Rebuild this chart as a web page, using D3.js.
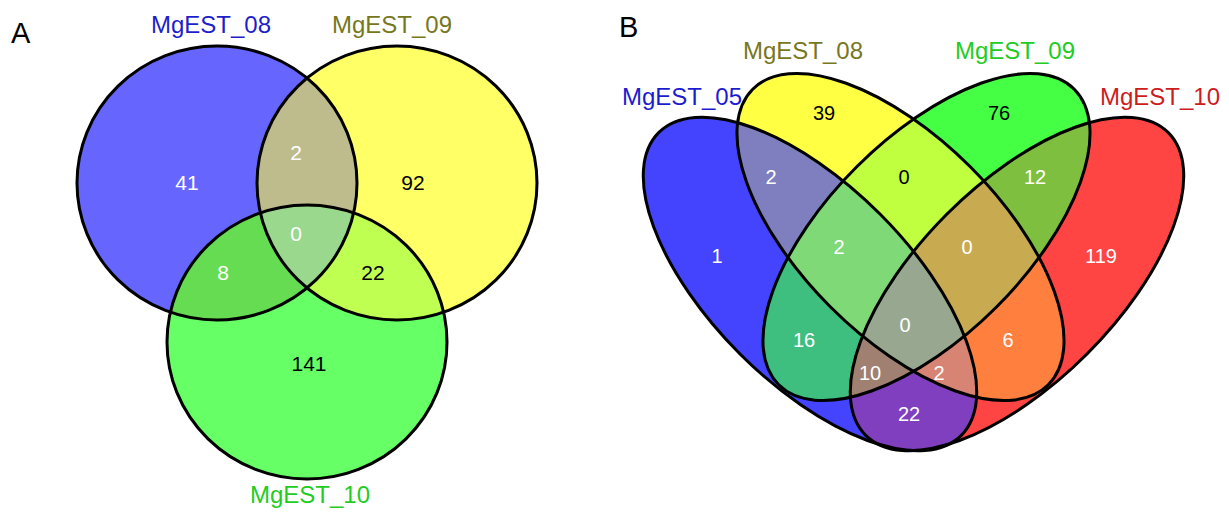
<!DOCTYPE html>
<html>
<head>
<meta charset="utf-8">
<script src="https://cdn.jsdelivr.net/npm/d3@7"></script>
<style>
  html, body { margin: 0; padding: 0; background: #ffffff; }
  svg { display: block; }
  text { font-family: "Liberation Sans", Arial, sans-serif; }
</style>
</head>
<body>
<svg id="chart" width="1229" height="512"></svg>
<script>
// ---- Panel A: three EST libraries ----
const setsA = ["MgEST_08", "MgEST_09", "MgEST_10"];
// region keys: one character per set, "1" = inside
const regionKeysA = ["100", "010", "001", "110", "101", "011", "111"];
const countsA     = [41, 92, 141, 2, 8, 22, 0];

// ---- Panel B: four EST libraries ----
const setsB = ["MgEST_05", "MgEST_08", "MgEST_09", "MgEST_10"];
const regionKeysB = ["1000", "0100", "0010", "0001",
                     "1100", "0110", "0011", "1010", "0101", "1001",
                     "1110", "0111", "1011", "1101", "1111"];
const countsB     = [1, 39, 76, 119,
                     2, 0, 12, 16, 6, 22,
                     2, 0, 10, 2, 0];

// ---------------- styling / layout ----------------
const shapesA = [
  { cx: 217, cy: 183, rx: 140, ry: 137, rot: 0 },
  { cx: 397, cy: 183, rx: 140, ry: 137, rot: 0 },
  { cx: 307, cy: 342, rx: 140, ry: 137, rot: 0 }
];
const fillA = {
  "100": "#6666ff", "010": "#ffff66", "001": "#66ff66",
  "110": "#bebc8c", "101": "#66dc52", "011": "#bfff52", "111": "#9ad88e"
};
const inkA = {
  "100": "#fff", "010": "#000", "001": "#000",
  "110": "#fff", "101": "#fff", "011": "#000", "111": "#fff"
};
const posA = {
  "100": [187, 182], "010": [413, 182], "001": [309, 363],
  "110": [296, 152], "101": [223, 272], "011": [373, 272], "111": [296, 233]
};
const setLabelA = [
  { x: 211, y: 33, color: "#1e1ecb" },
  { x: 392, y: 33, color: "#77771e" },
  { x: 310, y: 503, color: "#22cc22" }
];

const shapesB = [
  { cx: 810,  cy: 284,   rx: 214, ry: 99, rot: 45 },
  { cx: 900.5, cy: 237,  rx: 209, ry: 99, rot: 45 },
  { cx: 926.5, cy: 237,  rx: 209, ry: 99, rot: -45 },
  { cx: 1017, cy: 284,   rx: 214, ry: 99, rot: -45 }
];
const fillB = {
  "1000": "#4444ff", "0100": "#ffff44", "0010": "#44ff44", "0001": "#ff4444",
  "1100": "#7f7fbf", "0110": "#bfff3f", "0011": "#7fbf3f",
  "1010": "#3fbf7f", "0101": "#ff7f3f", "1001": "#7f3fbf",
  "1110": "#80d977", "0111": "#c8aa50", "1011": "#a08070", "1101": "#d88474",
  "1111": "#98a890"
};
const inkB = {
  "1000": "#fff", "0100": "#000", "0010": "#000", "0001": "#fff",
  "1100": "#fff", "0110": "#000", "0011": "#fff",
  "1010": "#fff", "0101": "#fff", "1001": "#fff",
  "1110": "#fff", "0111": "#fff", "1011": "#fff", "1101": "#fff",
  "1111": "#fff"
};
const posB = {
  "1000": [717, 256], "0100": [824, 113], "0010": [999, 113], "0001": [1101, 256],
  "1100": [771, 177], "0110": [904, 177], "0011": [1035, 177],
  "1010": [804, 340], "0101": [1008, 340], "1001": [909, 414],
  "1110": [839, 247], "0111": [967, 247], "1011": [870, 373], "1101": [939, 373],
  "1111": [905, 325]
};
const setLabelB = [
  { x: 682,  y: 105, color: "#1c1ccf" },
  { x: 803,  y: 59,  color: "#77771e" },
  { x: 1015, y: 59,  color: "#22cc22" },
  { x: 1160, y: 105, color: "#cc1c1c" }
];

const svg = d3.select("#chart");
const defs = svg.append("defs");

function addShape(sel, s) {
  return sel.append("ellipse")
    .attr("cx", s.cx).attr("cy", s.cy)
    .attr("rx", s.rx).attr("ry", s.ry)
    .attr("transform", `rotate(${s.rot} ${s.cx} ${s.cy})`);
}

function drawVenn(id, sets, keys, counts, shapes, fills, inks, pos, labels, numSize) {
  const g = svg.append("g").attr("class", "venn-" + id);

  // one clip path per set outline
  shapes.forEach((s, i) => {
    addShape(defs.append("clipPath").attr("id", `clip-${id}-${i}`), s);
  });

  // paint regions from single sets up to the full intersection;
  // each deeper intersection covers the shallower ones beneath it
  const order = d3.range(keys.length)
    .sort((a, b) => d3.sum(keys[a], c => +c) - d3.sum(keys[b], c => +c));
  order.forEach(k => {
    const key = keys[k];
    const members = d3.range(sets.length).filter(i => key[i] === "1");
    let host = g;
    members.slice(0, -1).forEach(i => {
      host = host.append("g").attr("clip-path", `url(#clip-${id}-${i})`);
    });
    addShape(host, shapes[members[members.length - 1]])
      .attr("fill", fills[key]).attr("stroke", "none");
  });

  // outlines
  shapes.forEach(s => {
    addShape(g, s).attr("fill", "none").attr("stroke", "#000").attr("stroke-width", 3);
  });

  // region counts
  g.selectAll("text.count")
    .data(keys.map((key, i) => ({ key, n: counts[i] })))
    .join("text")
    .attr("class", "count")
    .attr("x", d => pos[d.key][0])
    .attr("y", d => pos[d.key][1])
    .attr("dy", "0.36em")
    .attr("text-anchor", "middle")
    .attr("font-size", numSize)
    .attr("fill", d => inks[d.key])
    .text(d => d.n);

  // set names
  g.selectAll("text.set")
    .data(sets.map((name, i) => ({ name, ...labels[i] })))
    .join("text")
    .attr("class", "set")
    .attr("x", d => d.x).attr("y", d => d.y)
    .attr("text-anchor", "middle")
    .attr("font-size", 24)
    .attr("fill", d => d.color)
    .text(d => d.name);
}

drawVenn("a", setsA, regionKeysA, countsA, shapesA, fillA, inkA, posA, setLabelA, 21);
drawVenn("b", setsB, regionKeysB, countsB, shapesB, fillB, inkB, posB, setLabelB, 20);

// panel letters
svg.append("text").attr("x", 11).attr("y", 43).attr("font-size", 29).attr("fill", "#000").text("A");
svg.append("text").attr("x", 619).attr("y", 37).attr("font-size", 29).attr("fill", "#000").text("B");
</script>
</body>
</html>
